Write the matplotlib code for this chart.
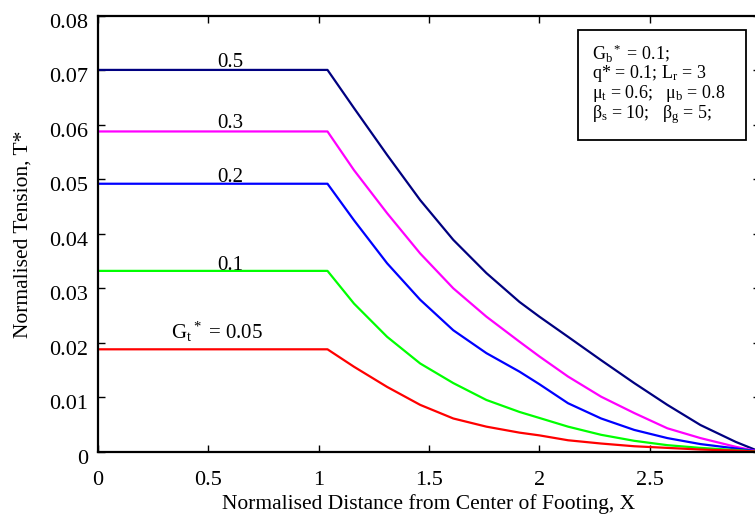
import matplotlib
matplotlib.use("Agg")
import matplotlib.pyplot as plt
from matplotlib.patches import Rectangle
from matplotlib.transforms import ScaledTranslation

plt.rcParams['font.family'] = ['Liberation Serif', 'DejaVu Serif']
plt.rcParams['mathtext.fontset'] = 'custom'
plt.rcParams['mathtext.rm'] = 'Liberation Serif'
plt.rcParams['mathtext.it'] = 'Liberation Serif:italic'
plt.rcParams['mathtext.bf'] = 'Liberation Serif:bold'

# ---- data ----
x_points = [0, 1.04, 1.16, 1.31, 1.46, 1.61, 1.76, 1.91, 2.0, 2.13, 2.28, 2.43, 2.58, 2.73, 2.89, 3.0]
gt_labels = ['0.5', '0.3', '0.2', '0.1', '0.05']
t_05 = [0.0701, 0.0701, 0.0631, 0.0545, 0.0462, 0.0389, 0.0328, 0.0275, 0.0248, 0.0211, 0.0168, 0.0126, 0.0086, 0.0049, 0.0018, 0.0]
t_03 = [0.0588, 0.0588, 0.0517, 0.0438, 0.0364, 0.0300, 0.0248, 0.0202, 0.0175, 0.0138, 0.0101, 0.0071, 0.0043, 0.0025, 0.0009, 0.0]
t_02 = [0.0492, 0.0492, 0.0425, 0.0346, 0.0279, 0.0223, 0.0181, 0.0147, 0.0124, 0.0089, 0.0061, 0.0040, 0.0025, 0.0014, 0.0006, 0.0]
t_01 = [0.0332, 0.0332, 0.0272, 0.0211, 0.0162, 0.0126, 0.0095, 0.0073, 0.0062, 0.0046, 0.0031, 0.0020, 0.0012, 0.0007, 0.0003, 0.0]
t_005 = [0.0188, 0.0188, 0.0156, 0.0119, 0.0086, 0.0061, 0.0046, 0.0035, 0.0030, 0.0021, 0.0015, 0.0010, 0.0007, 0.0004, 0.0002, 0.0]
x_ticks = [0, 0.5, 1, 1.5, 2, 2.5, 3]
x_ticklabels = ['0', '0.5', '1', '1.5', '2', '2.5', '3']
y_ticks = [0, 0.01, 0.02, 0.03, 0.04, 0.05, 0.06, 0.07, 0.08]
y_ticklabels = ['0', '0.01', '0.02', '0.03', '0.04', '0.05', '0.06', '0.07', '0.08']

series = [t_05, t_03, t_02, t_01, t_005]
colors = ['#000080', '#ff00ff', '#0000ff', '#00ff00', '#ff0000']

fig = plt.figure(figsize=(7.55, 5.19), dpi=100)
ax = fig.add_axes([98 / 755, (519 - 451.7) / 519, (760 - 98) / 755, (451.7 - 16) / 519])

for t, c in zip(series, colors):
    ax.plot(x_points, t, color=c, lw=1.6, solid_joinstyle='round')

ax.set_xlim(0, 3)
ax.set_ylim(0, 0.08)
ax.set_xticks(x_ticks)
ax.set_xticklabels(x_ticklabels)
ax.set_yticks(y_ticks)
ax.set_yticklabels(y_ticklabels)
ax.tick_params(direction='in', length=5, width=1, top=True, right=True, labelsize=16)
ax.tick_params(axis='x', pad=14)
ax.tick_params(axis='y', pad=7)
shift = ScaledTranslation(0, -5 / 100, fig.dpi_scale_trans)
for lab in ax.get_yticklabels():
    lab.set_transform(lab.get_transform() + shift)
for s in ax.spines.values():
    s.set_linewidth(1.6)

ax.set_xlabel('Normalised Distance from Center of Footing, X', fontsize=15.5, labelpad=3)
ax.set_ylabel('Normalised Tension, T*', fontsize=15.5, labelpad=12)

# curve labels
offsets = [0.0005, 0.0006, 0.0003, 0.0001, 0.002]
label_x = [0.6, 0.6, 0.6, 0.6, 0.54]
for lab, t, dy, lx in zip(gt_labels, series, offsets, label_x):
    txt = lab if lab != '0.05' else r'G$_{\rm t}$$^*$ = 0.05'
    ax.text(lx, t[0] + dy, txt, ha='center', va='baseline', fontsize=15)

# parameter box
box_text = (r'G$_{\rm b}$$^*$ = 0.1;' '\n'
            r'q* = 0.1; L$_{\rm r}$ = 3' '\n'
            r'μ$_{\rm t}$ = 0.6;   μ$_{\rm b}$ = 0.8' '\n'
            r'β$_{\rm s}$ = 10;   β$_{\rm g}$ = 5;')
fig.text(592 / 755, 1 - 42 / 519, box_text,
         ha='left', va='top', fontsize=13, linespacing=0.95)
fig.patches.append(Rectangle((578 / 755, 1 - 140 / 519), (746 - 578) / 755, (140 - 30) / 519,
                             transform=fig.transFigure, fill=False, ec='black', lw=1.3))

fig.savefig('out.png', dpi=100)
